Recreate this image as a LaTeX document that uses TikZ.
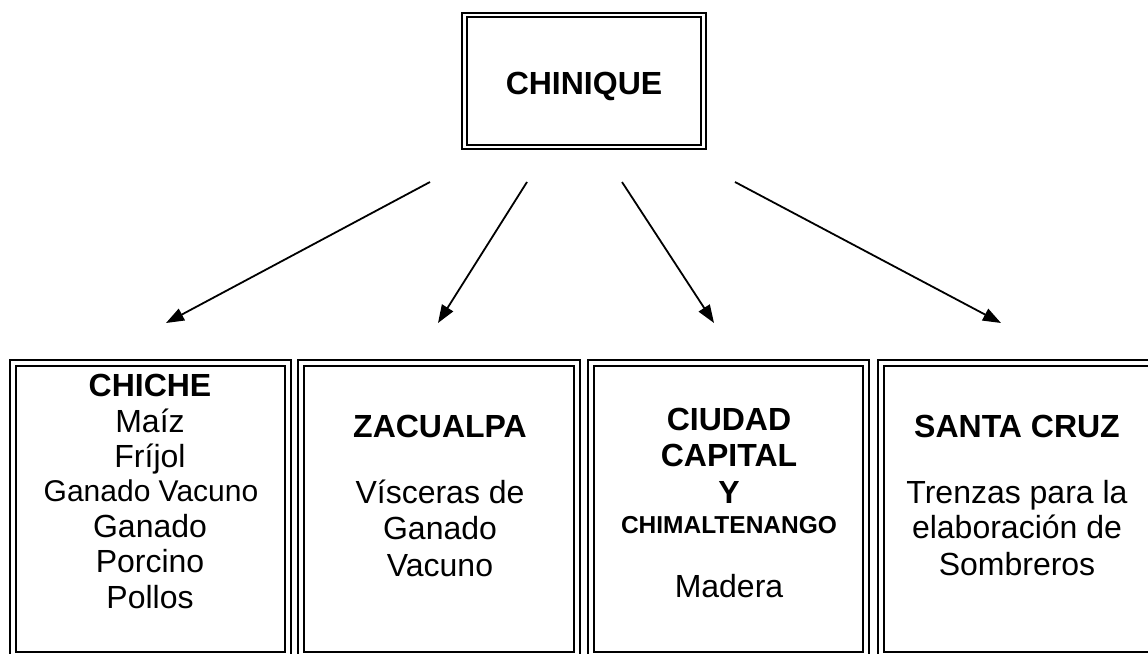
\documentclass[tikz,border=0pt]{standalone}
\usepackage{fontspec}
\setmainfont{Liberation Sans}
\usetikzlibrary{arrows.meta}
\begin{document}
\begin{tikzpicture}[x=1pt,y=-1pt,
  frame/.style={draw, double, line width=2pt, double distance=4pt, inner sep=0pt, outer sep=0pt, anchor=north west},
  topframe/.style={draw, double, line width=2.2pt, double distance=2.5pt, inner sep=0pt, outer sep=0pt, anchor=north west},
  txt/.style={anchor=base, inner sep=0pt, font=\fontsize{32}{36}\selectfont},
  txtsm/.style={anchor=base, inner sep=0pt, font=\fontsize{30}{36}\selectfont},
  head/.style={anchor=base, inner sep=0pt, font=\fontsize{32}{36}\selectfont\bfseries},
  headsm/.style={anchor=base, inner sep=0pt, font=\fontsize{24.5}{30}\selectfont\bfseries},
  arr/.style={line width=1.8pt, -{Triangle[length=18pt,width=13pt]}}
]
\useasboundingbox (0,0) rectangle (1148,653);
\fill[white] (0,0) rectangle (1148,653);

% top box
\node[topframe, minimum width=239pt, minimum height=132pt] (topbox) at (464.5,15) {};
\node[head] (chinique) at (584,94) {CHINIQUE};

% bottom frames
\node[frame, minimum width=275pt, minimum height=292pt] (b1) at (13,363) {};
\node[frame, minimum width=276pt, minimum height=292pt] (b2) at (301,363) {};
\node[frame, minimum width=275pt, minimum height=292pt] (b3) at (591,363) {};
\node[frame, minimum width=279pt, minimum height=292pt] (b4) at (881,363) {};

% box 1 text
\node[head] (t11) at (150,396) {CHICHE};
\node[txt] (t12) at (150,432) {Maíz};
\node[txt] (t13) at (150,467) {Fríjol};
\node[txtsm] (t14) at (151,501) {Ganado Vacuno};
\node[txt] (t15) at (150,537) {Ganado};
\node[txt] (t16) at (150,572) {Porcino};
\node[txt] (t17) at (150,608) {Pollos};

% box 2 text
\node[head] (t21) at (440,437) {ZACUALPA};
\node[txt] (t22) at (440,503) {Vísceras de};
\node[txt] (t23) at (440,539) {Ganado};
\node[txt] (t24) at (440,576) {Vacuno};

% box 3 text
\node[head] (t31) at (729,430) {CIUDAD};
\node[head] (t32) at (729,466) {CAPITAL};
\node[head] (t33) at (729,503) {Y};
\node[headsm] (t34) at (729,533) {CHIMALTENANGO};
\node[txt] (t35) at (729,597) {Madera};

% box 4 text
\node[head] (t41) at (1017,437) {SANTA CRUZ};
\node[txt] (t42) at (1017,503) {Trenzas para la};
\node[txt] (t43) at (1017,538) {elaboración de};
\node[txt] (t44) at (1017,575) {Sombreros};

% arrows
\coordinate (s1) at (430,182);
\coordinate (s2) at (527,182);
\coordinate (s3) at (622,182);
\coordinate (s4) at (735,182);
\coordinate (e1) at (166,323);
\coordinate (e2) at (438,323);
\coordinate (e3) at (714,323);
\coordinate (e4) at (1001,323);
\draw[arr] (s1) -- (e1);
\draw[arr] (s2) -- (e2);
\draw[arr] (s3) -- (e3);
\draw[arr] (s4) -- (e4);
\end{tikzpicture}
\end{document}
